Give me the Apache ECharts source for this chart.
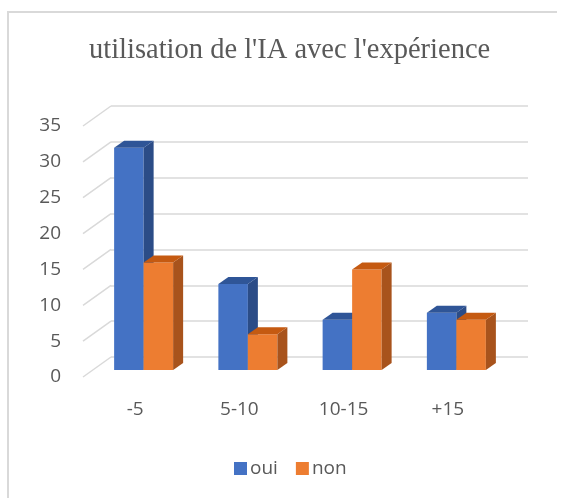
<!DOCTYPE html>
<html>
<head>
<meta charset="utf-8">
<script src="https://cdn.jsdelivr.net/npm/echarts@6/dist/echarts.min.js"></script>
<style>
    html, body { margin: 0; padding: 0; background: #fff; }
    #chart { width: 566px; height: 498px; }
</style>
</head>
<body>
<div id="chart"></div>
<script>
    var categories = ['-5', '5-10', '10-15', '+15'];
    var oui = [31, 12, 7, 8];
    var non = [15, 5, 14, 7];
    var yTicks = [0, 5, 10, 15, 20, 25, 30, 35];

    // couleurs des faces : avant, dessus, cote
    var blueFaces = ['#4472C4', '#2F5597', '#2B4C87'];
    var orangeFaces = ['#ED7D31', '#C55A11', '#A8531C'];

    var labelColor = '#595959';
    var gridColor = '#D9D9D9';

    function barRenderer(side, faces) {
        return function (params, api) {
            var cat = api.value(0);
            var v = api.value(1);
            var base = api.coord([cat, 0]);
            var top = api.coord([cat, v]);
            var band = api.size([1, 0])[0];
            var w = band * 0.283;
            // plan des barres decale par rapport au plan avant
            var cx = base[0] + 8.5;
            var x0 = side === 0 ? cx - w : cx;
            var x1 = x0 + w;
            var yb = base[1] - 7;
            var yt = top[1] - 7;
            var dx = 10, dy = 7;
            return {
                type: 'group',
                children: [
                    {
                        type: 'rect',
                        shape: { x: x0, y: yt, width: w, height: yb - yt },
                        style: { fill: faces[0] }
                    },
                    {
                        type: 'polygon',
                        shape: { points: [[x1, yt], [x1 + dx, yt - dy], [x1 + dx, yb - dy], [x1, yb]] },
                        style: { fill: faces[2] }
                    },
                    {
                        type: 'polygon',
                        shape: { points: [[x0, yt], [x1, yt], [x1 + dx, yt - dy], [x0 + dx, yt - dy]] },
                        style: { fill: faces[1] }
                    }
                ]
            };
        };
    }

    function drawChart() {
        var chart = echarts.init(document.getElementById('chart'));
        chart.setOption({
            backgroundColor: '#fff',
            animation: false,
            title: {
                text: "utilisation de l'IA avec l'expérience",
                left: 84,
                top: 31,
                textStyle: {
                    fontFamily: 'Liberation Serif',
                    fontSize: 28.5,
                    fontWeight: 'normal',
                    color: labelColor
                }
            },
            legend: {
                data: ['oui', 'non'],
                left: 234,
                top: 459,
                padding: 0,
                itemWidth: 13,
                itemHeight: 13,
                itemGap: 18,
                icon: 'rect',
                textStyle: { fontFamily: 'Open Sans', fontSize: 19, color: labelColor, padding: [0, 0, 0, -2] }
            },
            graphic: [
                {
                    type: 'polyline',
                    shape: { points: [[8, 498], [8, 12], [557, 12]] },
                    style: { stroke: gridColor, lineWidth: 2, fill: null }
                }
            ],
            grid: [
                // plan avant : etiquettes et barres
                { left: 83, right: 66, top: 126, bottom: 121 },
                // paroi du fond : quadrillage
                { left: 111, right: 38, top: 106, bottom: 141 }
            ],
            xAxis: [
                {
                    type: 'category',
                    gridIndex: 0,
                    data: categories,
                    axisLine: { show: false },
                    axisTick: { show: false },
                    axisLabel: { margin: 23, fontFamily: 'Open Sans', fontSize: 19, color: labelColor }
                },
                {
                    type: 'value',
                    gridIndex: 1,
                    show: false,
                    splitLine: { show: false }
                }
            ],
            yAxis: [
                {
                    type: 'value',
                    gridIndex: 0,
                    min: 0,
                    max: 35,
                    interval: 5,
                    axisLine: { show: false },
                    axisTick: { show: false },
                    splitLine: { show: false },
                    axisLabel: { margin: 22, fontFamily: 'Open Sans', fontSize: 19, color: labelColor }
                },
                {
                    type: 'value',
                    gridIndex: 1,
                    min: 0,
                    max: 35,
                    interval: 5,
                    axisLine: { show: false },
                    axisTick: { show: false },
                    axisLabel: { show: false },
                    splitLine: { lineStyle: { color: gridColor, width: 1.5 } }
                }
            ],
            series: [
                {
                    // lignes obliques du plancher / mur lateral
                    type: 'custom',
                    xAxisIndex: 0,
                    yAxisIndex: 0,
                    silent: true,
                    data: yTicks.map(function (v) { return [0, v]; }),
                    renderItem: function (params, api) {
                        var p = api.coord([0, api.value(1)]);
                        var band = api.size([1, 0])[0];
                        var x = p[0] - band / 2;
                        return {
                            type: 'line',
                            shape: { x1: x, y1: p[1], x2: x + 28, y2: p[1] - 20 },
                            style: { stroke: gridColor, lineWidth: 1.5 }
                        };
                    }
                },
                {
                    name: 'oui',
                    type: 'custom',
                    xAxisIndex: 0,
                    yAxisIndex: 0,
                    itemStyle: { color: blueFaces[0] },
                    data: oui.map(function (v, i) { return [i, v]; }),
                    renderItem: barRenderer(0, blueFaces)
                },
                {
                    name: 'non',
                    type: 'custom',
                    xAxisIndex: 0,
                    yAxisIndex: 0,
                    itemStyle: { color: orangeFaces[0] },
                    data: non.map(function (v, i) { return [i, v]; }),
                    renderItem: barRenderer(1, orangeFaces)
                }
            ]
        });
    }

    drawChart();
</script>
</body>
</html>
